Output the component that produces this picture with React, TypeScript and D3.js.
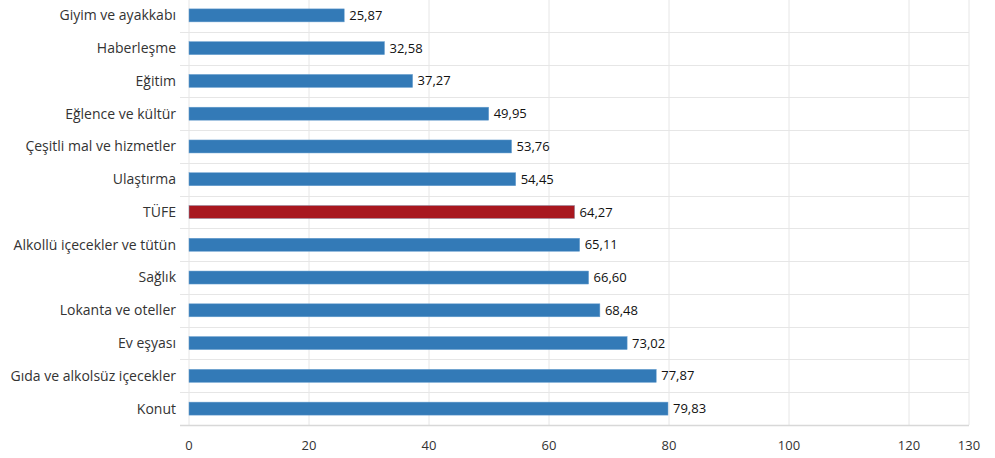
import React from "react";
import * as d3 from "d3";

const categories = [
  "Giyim ve ayakkabı",
  "Haberleşme",
  "Eğitim",
  "Eğlence ve kültür",
  "Çeşitli mal ve hizmetler",
  "Ulaştırma",
  "TÜFE",
  "Alkollü içecekler ve tütün",
  "Sağlık",
  "Lokanta ve oteller",
  "Ev eşyası",
  "Gıda ve alkolsüz içecekler",
  "Konut",
];
const values = [25.87, 32.58, 37.27, 49.95, 53.76, 54.45, 64.27, 65.11, 66.6, 68.48, 73.02, 77.87, 79.83];
const xTicks = [0, 20, 40, 60, 80, 100, 120, 130];
const highlight = "TÜFE";

const W = 995;
const H = 458;
const left = 189;
const right = 969;
const top = -1;
const bottom = 425;
const font = "'Open Sans', 'Noto Sans', sans-serif";

export default function App() {
  const x = d3.scaleLinear().domain([0, 130]).range([left, right]);
  const y = d3.scaleBand<string>().domain(categories).range([top, bottom]);
  const bw = 13;
  const fmt = (v: number) => v.toFixed(2).replace(".", ",");
  return (
    <svg width={W} height={H} style={{ position: "absolute", left: 0, top: 0, background: "#fff" }}>
      {xTicks.map((t) => (
        <line key={"v" + t} x1={x(t)} x2={x(t)} y1={0} y2={bottom} stroke="#e6e6e6" strokeWidth={1} />
      ))}
      {categories.map((c, i) => (
        <line key={"h" + i} x1={left - 9} x2={right} y1={Math.round(y(c)!) + 0.5} y2={Math.round(y(c)!) + 0.5} stroke="#e6e6e6" strokeWidth={1} />
      ))}
      <line x1={left - 9} x2={right} y1={bottom + 0.5} y2={bottom + 0.5} stroke="#d8d8d8" strokeWidth={1.5} />
      {categories.map((c, i) => {
        const cy = y(c)! + y.bandwidth() / 2;
        return (
          <g key={c}>
            <rect
              x={x(0)}
              y={cy - bw / 2}
              width={x(values[i]) - x(0)}
              height={bw}
              fill={c === highlight ? "#A8171F" : "#337AB7"}
              stroke={c === highlight ? "#8a8fa8" : "#6aa0d0"}
              strokeWidth={0.5}
            />
            <text x={left - 13} y={cy} dy="0.35em" textAnchor="end" fontFamily={font} fontSize={14} fill="#333">
              {c}
            </text>
            <text x={x(values[i]) + 5} y={cy} dy="0.35em" fontFamily={font} fontSize={13} fill="#111">
              {fmt(values[i])}
            </text>
          </g>
        );
      })}
      {xTicks.map((t) => (
        <text key={"t" + t} x={x(t)} y={450} textAnchor="middle" fontFamily={font} fontSize={13} fill="#333">
          {t}
        </text>
      ))}
    </svg>
  );
}
